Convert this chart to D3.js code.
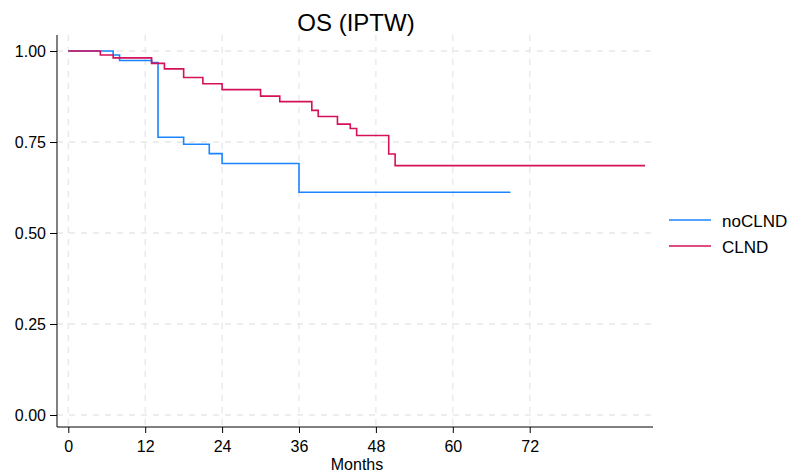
<!DOCTYPE html>
<html>
<head>
<meta charset="utf-8">
<script src="https://cdn.jsdelivr.net/npm/d3@7"></script>
<style>
  body { margin: 0; background: #fff; }
  text { font-family: "Liberation Sans", Arial, sans-serif; }
</style>
</head>
<body>
<div id="chart"></div>
<script>
// step data (month of drop, survival after drop)
const noclndMonths = [0, 7, 8, 13, 14, 18, 22, 24, 36, 69];
const noclndSurv   = [1.00, 0.989, 0.974, 0.968, 0.763, 0.744, 0.718, 0.691, 0.612, 0.612];
const clndMonths = [0, 5, 7, 13, 15, 18, 21, 24, 30, 33, 38, 39, 42, 44, 45, 50, 51, 90];
const clndSurv   = [1.00, 0.989, 0.981, 0.966, 0.951, 0.927, 0.910, 0.894, 0.876, 0.861, 0.837, 0.820, 0.799, 0.787, 0.768, 0.717, 0.685, 0.685];
const xTicks = [0, 12, 24, 36, 48, 60, 72];
const yTicks = [0, 0.25, 0.5, 0.75, 1];
const seriesNames = ['noCLND', 'CLND'];
const seriesColors = ['#1a85ff', '#d41159'];

const W = 787, H = 474;
const svg = d3.select('#chart').append('svg').attr('width', W).attr('height', H);

// scales: 0 month at x=68, 12 months ~76.9px; 1.00 at y=51, 0.00 at y=415
const x = d3.scaleLinear().domain([0, 12]).range([68.3, 145.2]);
const y = d3.scaleLinear().domain([0, 1]).range([415, 51]);
const plotLeft = 57, plotRight = 653, plotTop = 35, plotBottom = 427;

// grid
const grid = svg.append('g');
grid.selectAll('.gx').data(xTicks).join('line')
  .attr('x1', d => x(d)).attr('x2', d => x(d))
  .attr('y1', plotTop).attr('y2', plotBottom)
  .attr('stroke', '#e8e8e8').attr('stroke-width', 1.3).attr('stroke-dasharray', '6,6');
grid.selectAll('.gy').data(yTicks).join('line')
  .attr('x1', plotLeft).attr('x2', plotRight)
  .attr('y1', d => y(d)).attr('y2', d => y(d))
  .attr('stroke', '#e8e8e8').attr('stroke-width', 1.3).attr('stroke-dasharray', '6,6');

// axes
const yAxis = svg.append('g').attr('transform', `translate(${plotLeft},0)`)
  .call(d3.axisLeft(y).tickValues(yTicks).tickFormat(d3.format('.2f')).tickSize(7).tickPadding(4).tickSizeOuter(0));
yAxis.select('.domain').attr('d', `M0,${plotTop}V${plotBottom}`);
const xAxis = svg.append('g').attr('transform', `translate(0,${plotBottom})`)
  .call(d3.axisBottom(x).tickValues(xTicks).tickSize(6).tickSizeOuter(0));
xAxis.select('.domain').attr('d', `M${plotLeft},0H${plotRight}`);
[xAxis, yAxis].forEach(a => {
  a.selectAll('text').attr('font-size', 16).attr('fill', '#000')
    .style('font-family', '"Liberation Sans", Arial, sans-serif');
  a.selectAll('line, path').attr('stroke', '#000');
});
xAxis.selectAll('text').attr('dy', '1.0em');

// lines
const line = d3.line().x(d => x(d[0])).y(d => y(d[1])).curve(d3.curveStepAfter);
const data = [
  d3.zip(noclndMonths, noclndSurv),
  d3.zip(clndMonths, clndSurv)
];
svg.selectAll('.km').data(data).join('path')
  .attr('d', line).attr('fill', 'none')
  .attr('stroke', (d, i) => seriesColors[i]).attr('stroke-width', 1.6);

// title & axis title
svg.append('text').attr('x', 356).attr('y', 31).attr('text-anchor', 'middle')
  .attr('font-size', 24).text('OS (IPTW)');
svg.append('text').attr('x', 357).attr('y', 470).attr('text-anchor', 'middle')
  .attr('font-size', 16).text('Months');

// legend
const legend = svg.append('g');
seriesNames.forEach((name, i) => {
  const ly = 220 + i * 26;
  legend.append('line').attr('x1', 669).attr('x2', 711).attr('y1', ly).attr('y2', ly)
    .attr('stroke', seriesColors[i]).attr('stroke-width', 1.6);
  legend.append('text').attr('x', 722).attr('y', ly + 7).attr('font-size', 17).text(name);
});
</script>
</body>
</html>
